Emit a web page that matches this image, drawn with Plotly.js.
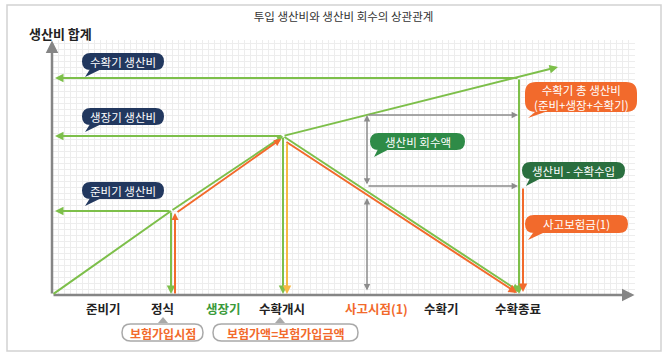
<!DOCTYPE html>
<html><head><meta charset="utf-8">
<script src="https://cdn.plot.ly/plotly-3.0.1.min.js"></script>
<style>html,body{margin:0;padding:0;background:#fff}#chart{width:670px;height:357px}</style>
</head><body><div id="chart"></div>
<script>
// ---------- data (time on x, cumulative production cost on y; arbitrary units) ----------
const stageLabels = ['준비기','정식','생장기','수확개시','사고시점(1)','수확기','수확종료'];
const stageLabelX = [51,110,171,230,324,389,466];
const cumTime = [0, 119, 231, 506];        // cumulative production cost line
const cumCost = [0, 84, 159, 228];
const phaseCostTime = [119, 231, 467];     // end of 준비기 / 생장기 / 수확기
const phaseCost = [84, 159, 217];
const valueTime = [231, 468];              // value declining after harvest start
const valueCost = [159, 3];
const insUpTime = [123, 123, 229];         // insured amount rising
const insUpCost = [0, 82, 156];
const insDownTime = [233, 465];            // insured amount declining
const insDownCost = [154, 2];
const yellowTime = [235, 235];
const yellowCost = [153, 1];
const accidentTime = 315;
const accidentBand = [180, 109, 97, 3];    // gray bracket levels at accident
const recoveryEnd = 466;
const payoutTime = [471, 471];
const payoutCost = [108, 3];

// ---------- helpers ----------
const L = 52, T = 40, W = 583, H = 255;
const PX = p => (p - L) / W, PY = p => (T + H - p) / H;
const GREEN = '#7dbf4a', ORANGE = '#f26a2c', YELLOW = '#f7b844', GRAY = '#8c8c8c';
const FONT = 'Noto Sans CJK KR, Noto Sans, sans-serif';

function arr(x0, y0, x1, y1, color, w, both, size, head) {
  const a = {x: x1, y: y1, ax: x0, ay: y0, xref: 'x', yref: 'y', axref: 'x', ayref: 'y',
    text: '', showarrow: true, arrowhead: head === undefined ? 2 : head, arrowsize: size || 0.85,
    arrowwidth: w, arrowcolor: color, standoff: 0, startstandoff: 0};
  if (both) { a.arrowside = 'end+start'; a.startarrowhead = 2; a.startarrowsize = size || 0.85; }
  return a;
}
function pt(x, y) { return PX(x).toFixed(5) + ',' + PY(y).toFixed(5); }
function bubblePath(x0, y0, x1, y1, tip) {
  const r = Math.min((y1 - y0) / 2, 11);
  let p = 'M' + pt(x0 + r, y0) + ' L' + pt(x1 - r, y0) + ' Q' + pt(x1, y0) + ' ' + pt(x1, y0 + r) +
    ' L' + pt(x1, y1 - r) + ' Q' + pt(x1, y1) + ' ' + pt(x1 - r, y1);
  if (tip) {
    p += ' L' + pt(x0 + r + 9, y1) + ' L' + pt(tip[0], tip[1]) + ' L' + pt(x0 + r - 1, y1);
  }
  p += ' L' + pt(x0 + r, y1) + ' Q' + pt(x0, y1) + ' ' + pt(x0, y1 - r) + ' L' + pt(x0, y0 + r) +
    ' Q' + pt(x0, y0) + ' ' + pt(x0 + r, y0) + ' Z';
  return p;
}
function bubble(x0, y0, x1, y1, tip, color) {
  return {type: 'path', xref: 'paper', yref: 'paper', path: bubblePath(x0, y0, x1, y1, tip),
    fillcolor: color, line: {width: 0}, layer: 'above'};
}
function pill(x0, y0, x1, y1) {
  return {type: 'path', xref: 'paper', yref: 'paper', path: bubblePath(x0, y0, x1, y1, null),
    fillcolor: '#ffffff', line: {width: 1.5, color: '#a9a9a9'}, layer: 'above'};
}
function tri(cx, ty) {
  return {type: 'path', xref: 'paper', yref: 'paper',
    path: 'M' + pt(cx, ty) + ' L' + pt(cx + 5, ty + 6) + ' L' + pt(cx - 5, ty + 6) + ' Z',
    fillcolor: '#a9a9a9', line: {width: 0}, layer: 'above'};
}
function txt(x, y, text, size, color, weight) {
  return {x: PX(x), y: PY(y), xref: 'paper', yref: 'paper', text: text, showarrow: false,
    xanchor: 'center', yanchor: 'middle',
    font: {family: FONT, size: size, color: color, weight: weight || 'normal'}};
}

// ---------- marks ----------
const ann = [];
// axes
ann.push(arr(0, 0, 582.5, 0, '#858585', 2.5, false, 1));
ann.push(arr(0, 0, 0, 254.5, '#858585', 2.5, false, 1));
// cumulative cost line (green)
ann.push(arr(cumTime[0], cumCost[0], cumTime[1], cumCost[1], GREEN, 2, false, 0.6, 0));
ann.push(arr(cumTime[1], cumCost[1], cumTime[2], cumCost[2], GREEN, 2, false, 0.6));
ann.push(arr(cumTime[2], cumCost[2], cumTime[3], cumCost[3], GREEN, 2, false, 0.85));
// phase cost levels: left arrows & down arrows
phaseCostTime.forEach((t, i) => {
  ann.push(arr(t, phaseCost[i], 3, phaseCost[i], GREEN, 2));
  ann.push(arr(t, phaseCost[i], t, 1, GREEN, 2));
});
// declining value (green)
ann.push(arr(valueTime[0], valueCost[0], valueTime[1], valueCost[1], GREEN, 2));
// insured amount (orange)
ann.push(arr(insUpTime[0], insUpCost[0], insUpTime[1], insUpCost[1], ORANGE, 2, false, 0.7));
ann.push(arr(insUpTime[1] + 1, insUpCost[1], insUpTime[2], insUpCost[2], ORANGE, 2, false, 0.7));
ann.push(arr(insDownTime[0], insDownCost[0], insDownTime[1], insDownCost[1], ORANGE, 2));
ann.push(arr(payoutTime[0], payoutCost[0], payoutTime[1], payoutCost[1], ORANGE, 2));
// yellow
ann.push(arr(yellowTime[0], yellowCost[0], yellowTime[1], yellowCost[1], YELLOW, 2));
// gray brackets
ann.push(arr(accidentTime, accidentBand[1], accidentTime, accidentBand[0], GRAY, 1.5, true));
ann.push(arr(accidentTime, accidentBand[3], accidentTime, accidentBand[2], GRAY, 1.5, true));
ann.push(arr(accidentTime, accidentBand[0], recoveryEnd, accidentBand[0], GRAY, 1.5));
ann.push(arr(accidentTime, accidentBand[1], recoveryEnd, accidentBand[1], GRAY, 1.5));

// ---------- text ----------
ann.push(txt(60, 33, '생산비 합계', 13, '#222', 'bold'));
const stageColors = ['#222', '#222', '#3a9a3a', '#222', ORANGE, '#222', '#222'];
stageLabels.forEach((s, i) => ann.push(txt(stageLabelX[i] + L, 308, s, 12.5, stageColors[i], 'bold')));
ann.push(txt(162.5, 333, '보험가입시점', 12, ORANGE, 'bold'));
ann.push(txt(285.5, 333, '보험가액=보험가입금액', 12, ORANGE, 'bold'));
ann.push(txt(123, 62, '수확기 생산비', 11.5, '#fff'));
ann.push(txt(123, 116.5, '생장기 생산비', 11.5, '#fff'));
ann.push(txt(123, 190.5, '준비기 생산비', 11.5, '#fff'));
ann.push(txt(417.5, 141.5, '생산비 회수액', 11.5, '#fff'));
ann.push(txt(581, 97, '수확기 총 생산비<br>(준비+생장+수확기)', 11.5, '#fff'));
ann.push(txt(573.5, 170.5, '생산비 - 수확수입', 11.5, '#fff'));
ann.push(txt(576.5, 224, '사고보험금(1)', 11.5, '#fff'));

const shapes = [
  {type: 'rect', xref: 'paper', yref: 'paper', x0: PX(7), x1: PX(661), y0: PY(5), y1: PY(351),
    line: {color: '#d2d2d2', width: 1.5}, fillcolor: 'rgba(0,0,0,0)', layer: 'below'},
  bubble(82, 53, 164, 70, [85, 77], '#22385f'),
  bubble(82, 108, 164, 125, [85, 132], '#22385f'),
  bubble(82, 182, 164, 199, [85, 206], '#22385f'),
  bubble(370, 133, 465, 150, [374, 157], '#2e8b47'),
  bubble(525, 82, 637, 112, [528, 118], ORANGE),
  bubble(522, 162, 625, 179, [526, 186], '#2a6f3f'),
  bubble(525, 215, 628, 233, [528, 240], ORANGE),
  pill(122, 324, 203, 341), pill(213, 324, 358, 341),
  tri(163, 317), tri(280, 317)
];

const layout = {
  width: 670, height: 357,
  margin: {l: L, r: 670 - L - W, t: T, b: 357 - T - H},
  paper_bgcolor: '#fff', plot_bgcolor: '#fff',
  showlegend: false,
  title: {text: '투입 생산비와 생산비 회수의 상관관계', x: 0.5, xref: 'paper', xanchor: 'center',
    y: 1 - 17 / 357, yref: 'container', yanchor: 'middle',
    font: {family: FONT, size: 11.5, color: '#333'}},
  xaxis: {range: [0, W], showgrid: true, dtick: 6, tick0: 0, gridcolor: '#ededed', gridwidth: 1,
    zeroline: false, showline: false, showticklabels: false, ticks: '', fixedrange: true},
  yaxis: {range: [0, H], showgrid: true, dtick: 6, tick0: 0, gridcolor: '#ededed', gridwidth: 1,
    zeroline: false, showline: false, showticklabels: false, ticks: '', fixedrange: true},
  annotations: ann,
  shapes: shapes
};
Plotly.newPlot('chart', [{x: cumTime, y: cumCost, type: 'scatter', mode: 'lines',
  line: {width: 0, color: GREEN}, hoverinfo: 'skip'}], layout, {displayModeBar: false, staticPlot: true});
</script></body></html>
